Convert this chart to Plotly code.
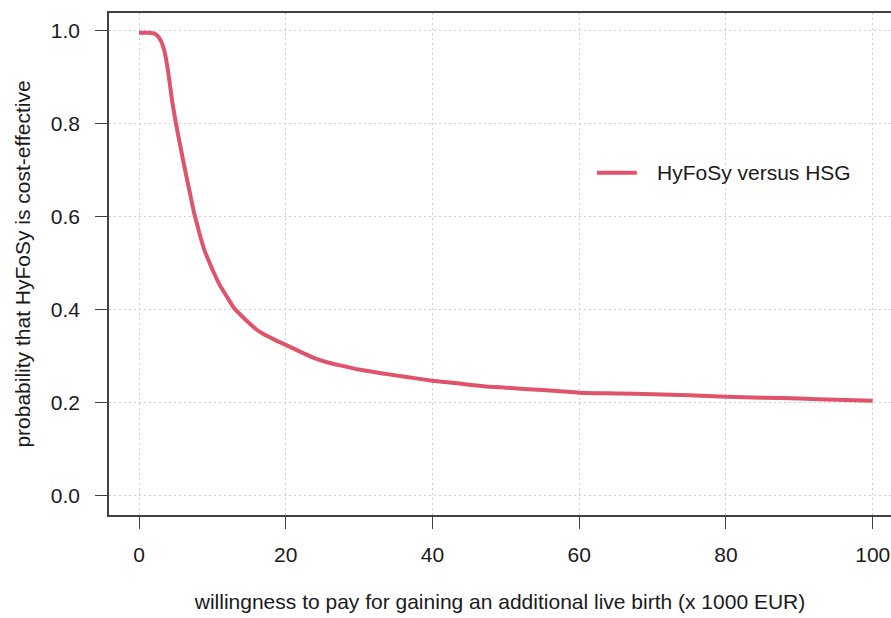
import plotly.graph_objects as go

wtp = [0, 1, 2, 2.5, 3, 3.5, 4, 4.5, 5, 5.5, 6, 6.5, 7, 7.5, 8, 8.5, 9, 9.5, 10,
       11, 12, 13, 14, 15, 16, 17, 18, 19, 20, 22, 24, 26, 28, 30, 33, 36, 40,
       43, 47, 50, 53, 57, 60, 65, 70, 75, 80, 85, 90, 95, 100]
prob = [0.996, 0.996, 0.995, 0.99, 0.978, 0.955, 0.909, 0.851, 0.804, 0.763, 0.723,
        0.684, 0.647, 0.609, 0.579, 0.550, 0.525, 0.506, 0.487,
        0.454, 0.428, 0.403, 0.387, 0.372, 0.358, 0.348, 0.340, 0.332, 0.325,
        0.310, 0.296, 0.286, 0.279, 0.272, 0.264, 0.257, 0.248,
        0.243, 0.236, 0.233, 0.2297, 0.226, 0.222, 0.2205, 0.219, 0.2165,
        0.2135, 0.2115, 0.2095, 0.207, 0.205]

x_ticks = [0, 20, 40, 60, 80, 100]
y_ticks = [0.0, 0.2, 0.4, 0.6, 0.8, 1.0]
y_tick_labels = ["0.0", "0.2", "0.4", "0.6", "0.8", "1.0"]
series_name = "HyFoSy versus HSG"

FONT = "Liberation Sans, Arial, sans-serif"
RED = "#DF536B"
FS = 21
GRID = "#CFCFCF"

fig = go.Figure()
fig.add_trace(go.Scatter(x=wtp, y=prob, mode="lines", name=series_name,
                         showlegend=False,
                         line=dict(color=RED, width=4, shape="spline", smoothing=0.5)))

# legend drawn in paper coordinates
fig.add_shape(type="line", xref="paper", yref="paper",
              x0=0.624, x1=0.675, y0=0.682, y1=0.682,
              line=dict(color=RED, width=4))
fig.add_annotation(xref="paper", yref="paper", x=0.698, y=0.682,
                   xanchor="left", yanchor="middle", showarrow=False,
                   text=series_name, font=dict(size=FS, color="#1a1a1a"))

fig.update_layout(
    width=891, height=618,
    margin=dict(l=109, r=0, t=13, b=103, autoexpand=False),
    paper_bgcolor="white", plot_bgcolor="white",
    font=dict(family=FONT, size=FS, color="#1a1a1a"),
    showlegend=False,
    xaxis=dict(range=[-4.09, 102.49], tickvals=x_ticks, automargin=False,
               showgrid=True, gridcolor=GRID, griddash="2px,3px", gridwidth=1,
               zeroline=False, showline=True, linecolor="#404040", linewidth=1.5,
               mirror=True, ticks="outside", ticklen=12, tickwidth=1.2,
               tickcolor="#404040", ticklabelstandoff=8,
               title=dict(text="willingness to pay for gaining an additional live birth (x 1000 EUR)",
                          standoff=29, font=dict(size=FS))),
    yaxis=dict(range=[-0.0409, 1.0387], tickvals=y_ticks, ticktext=y_tick_labels,
               automargin=False,
               showgrid=True, gridcolor=GRID, griddash="2px,3px", gridwidth=1,
               zeroline=False, showline=True, linecolor="#404040", linewidth=1.5,
               mirror=False, ticks="outside", ticklen=12, tickwidth=1.2,
               tickcolor="#404040", ticklabelstandoff=11,
               title=dict(text="probability that HyFoSy is cost-effective",
                          standoff=14, font=dict(size=FS))),
)

fig.write_html(
    "out.html",
    config={"displayModeBar": False},
    post_script="document.body.style.margin='0';document.body.style.overflow='hidden';",
)
